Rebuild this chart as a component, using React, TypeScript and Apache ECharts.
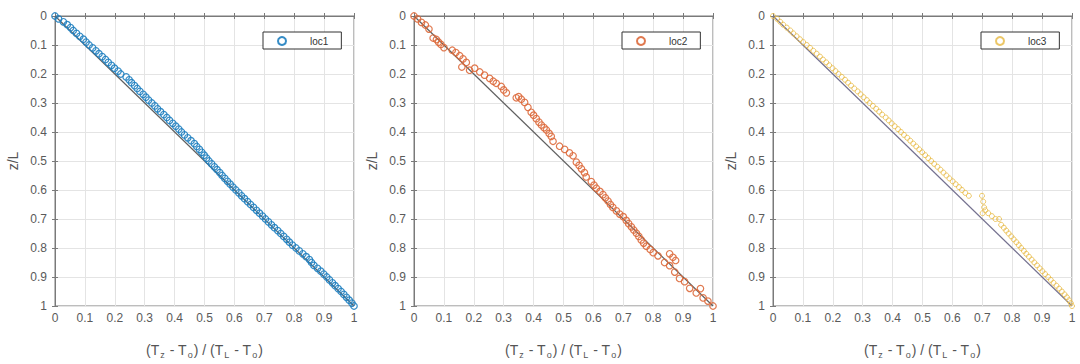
import React, { useEffect, useRef } from "react";
import * as echarts from "echarts";

// [x, z] pairs
const loc1: number[][] = [
  [0.000, 0.00], [0.012, 0.01], [0.028, 0.02], [0.041, 0.03], [0.052, 0.04], [0.061, 0.05], [0.072, 0.06], [0.083, 0.07], [0.095, 0.08], [0.104, 0.09],
  [0.114, 0.10], [0.126, 0.11], [0.137, 0.12], [0.147, 0.13], [0.158, 0.14], [0.169, 0.15], [0.178, 0.16], [0.189, 0.17], [0.199, 0.18], [0.211, 0.19],
  [0.220, 0.20], [0.238, 0.21], [0.248, 0.22], [0.256, 0.23], [0.266, 0.24], [0.275, 0.25], [0.284, 0.26], [0.295, 0.27], [0.304, 0.28], [0.313, 0.29],
  [0.324, 0.30], [0.334, 0.31], [0.343, 0.32], [0.353, 0.33], [0.364, 0.34], [0.374, 0.35], [0.383, 0.36], [0.394, 0.37], [0.404, 0.38], [0.414, 0.39],
  [0.423, 0.40], [0.433, 0.41], [0.444, 0.42], [0.455, 0.43], [0.466, 0.44], [0.474, 0.45], [0.483, 0.46], [0.491, 0.47], [0.499, 0.48], [0.507, 0.49],
  [0.515, 0.50], [0.524, 0.51], [0.533, 0.52], [0.542, 0.53], [0.551, 0.54], [0.559, 0.55], [0.568, 0.56], [0.577, 0.57], [0.586, 0.58], [0.595, 0.59],
  [0.605, 0.60], [0.615, 0.61], [0.624, 0.62], [0.634, 0.63], [0.644, 0.64], [0.654, 0.65], [0.664, 0.66], [0.674, 0.67], [0.684, 0.68], [0.694, 0.69],
  [0.704, 0.70], [0.714, 0.71], [0.724, 0.72], [0.734, 0.73], [0.745, 0.74], [0.755, 0.75], [0.765, 0.76], [0.775, 0.77], [0.784, 0.78], [0.794, 0.79],
  [0.806, 0.80], [0.817, 0.81], [0.829, 0.82], [0.840, 0.83], [0.851, 0.84], [0.858, 0.85], [0.866, 0.86], [0.878, 0.87], [0.889, 0.88], [0.899, 0.89],
  [0.909, 0.90], [0.918, 0.91], [0.928, 0.92], [0.937, 0.93], [0.947, 0.94], [0.957, 0.95], [0.966, 0.96], [0.975, 0.97], [0.984, 0.98], [0.993, 0.99],
  [1.000, 1.00],
];

const loc2: number[][] = [
  [0.000, 0.000], [0.012, 0.010], [0.025, 0.022], [0.038, 0.031], [0.050, 0.045], [0.064, 0.076], [0.075, 0.081], [0.082, 0.090], [0.090, 0.098], [0.100, 0.109],
  [0.128, 0.118], [0.140, 0.126], [0.153, 0.137], [0.164, 0.148], [0.160, 0.176], [0.175, 0.160], [0.186, 0.187], [0.203, 0.180], [0.220, 0.193], [0.236, 0.204],
  [0.253, 0.215], [0.265, 0.225], [0.275, 0.232], [0.292, 0.243], [0.300, 0.255], [0.309, 0.265], [0.342, 0.282], [0.350, 0.278], [0.359, 0.287], [0.370, 0.298],
  [0.381, 0.315], [0.392, 0.332], [0.400, 0.342], [0.409, 0.354], [0.418, 0.366], [0.426, 0.376], [0.435, 0.385], [0.443, 0.393], [0.452, 0.405], [0.459, 0.415],
  [0.465, 0.432], [0.487, 0.449], [0.504, 0.460], [0.520, 0.472], [0.532, 0.482], [0.543, 0.504], [0.552, 0.515], [0.560, 0.527], [0.570, 0.540], [0.576, 0.555],
  [0.593, 0.571], [0.602, 0.583], [0.610, 0.594], [0.622, 0.605], [0.632, 0.616], [0.640, 0.627], [0.649, 0.638], [0.657, 0.650], [0.665, 0.660], [0.677, 0.672],
  [0.688, 0.683], [0.700, 0.692], [0.710, 0.705], [0.718, 0.716], [0.727, 0.727], [0.735, 0.738], [0.744, 0.749], [0.752, 0.760], [0.760, 0.772], [0.768, 0.783],
  [0.777, 0.794], [0.790, 0.805], [0.800, 0.816], [0.816, 0.827], [0.838, 0.850], [0.855, 0.820], [0.866, 0.832], [0.875, 0.843], [0.855, 0.861], [0.872, 0.883],
  [0.888, 0.905], [0.905, 0.916], [0.922, 0.939], [0.944, 0.955], [0.958, 0.940], [0.967, 0.972], [0.983, 0.983], [1.000, 1.000],
];

const loc3: number[][] = [
  [0.000, 0.00], [0.014, 0.01], [0.024, 0.02], [0.034, 0.03], [0.046, 0.04], [0.058, 0.05], [0.068, 0.06], [0.079, 0.07], [0.090, 0.08], [0.101, 0.09],
  [0.113, 0.10], [0.124, 0.11], [0.135, 0.12], [0.146, 0.13], [0.157, 0.14], [0.167, 0.15], [0.178, 0.16], [0.188, 0.17], [0.199, 0.18], [0.209, 0.19],
  [0.219, 0.20], [0.230, 0.21], [0.241, 0.22], [0.251, 0.23], [0.261, 0.24], [0.272, 0.25], [0.283, 0.26], [0.293, 0.27], [0.303, 0.28], [0.314, 0.29],
  [0.323, 0.30], [0.334, 0.31], [0.345, 0.32], [0.355, 0.33], [0.365, 0.34], [0.377, 0.35], [0.387, 0.36], [0.397, 0.37], [0.407, 0.38], [0.418, 0.39],
  [0.428, 0.40], [0.438, 0.41], [0.449, 0.42], [0.459, 0.43], [0.469, 0.44], [0.479, 0.45], [0.489, 0.46], [0.499, 0.47], [0.509, 0.48], [0.519, 0.49],
  [0.529, 0.50], [0.539, 0.51], [0.550, 0.52], [0.560, 0.53], [0.570, 0.54], [0.580, 0.55], [0.590, 0.56], [0.601, 0.57], [0.611, 0.58], [0.622, 0.59],
  [0.632, 0.60], [0.643, 0.61], [0.655, 0.62], [0.699, 0.62], [0.703, 0.64], [0.706, 0.66], [0.701, 0.68], [0.710, 0.67], [0.720, 0.68], [0.732, 0.69],
  [0.744, 0.70], [0.756, 0.70], [0.763, 0.72], [0.772, 0.73], [0.780, 0.74], [0.788, 0.75], [0.797, 0.76], [0.805, 0.77], [0.814, 0.78], [0.822, 0.79],
  [0.830, 0.80], [0.839, 0.81], [0.847, 0.82], [0.856, 0.83], [0.865, 0.84], [0.874, 0.85], [0.883, 0.86], [0.892, 0.87], [0.901, 0.88], [0.910, 0.89],
  [0.920, 0.90], [0.929, 0.91], [0.938, 0.92], [0.948, 0.93], [0.957, 0.94], [0.966, 0.95], [0.975, 0.96], [0.983, 0.97], [0.990, 0.98], [0.996, 0.99],
  [1.000, 1.00],
];

const reference: number[][] = [[0, 0], [1, 1]];
const seriesNames = ["loc1", "loc2", "loc3"];
const seriesColors = ["#1f7fc0", "#dd6a3c", "#e9bd4e"];
const refColors = ["#5f5f5f", "#5f5f5f", "#74718f"];
const panelData = [loc1, loc2, loc3];
const panelLeft = [55, 414, 773];

export default function App() {
  const ref = useRef<HTMLDivElement>(null);
  useEffect(() => {
    if (!ref.current) return;
    const chart = echarts.init(ref.current, undefined, { renderer: "svg" });
    const font = "Liberation Sans, Arial, sans-serif";
    const grids: any[] = [];
    const xAxes: any[] = [];
    const yAxes: any[] = [];
    const series: any[] = [];
    const legends: any[] = [];
    panelLeft.forEach((left, i) => {
      grids.push({ left, top: 16, width: 299, height: 299, show: true, borderColor: "#7a7a7a", borderWidth: 1, backgroundColor: "#fff" });
      const common = {
        gridIndex: i,
        min: 0,
        max: 1,
        interval: 0.1,
        axisLine: { show: true, lineStyle: { color: "#7a7a7a", width: 1 } },
        axisTick: { show: true, inside: true, length: 3, lineStyle: { color: "#7a7a7a" } },
        splitLine: { show: true, lineStyle: { color: "#e4e4e4", width: 1 } },
        axisLabel: { color: "#5a5a5a", fontSize: 12, fontFamily: font, margin: 6 },
      };
      xAxes.push({
        ...common,
        type: "value",
        position: "bottom",
        name: "(T{s|z} - T{s|o}) / (T{s|L} - T{s|o})",
        nameLocation: "middle",
        nameGap: 35,
        nameTextStyle: {
          color: "#555",
          fontSize: 14,
          fontFamily: font,
          rich: { s: { fontSize: 9, fontFamily: font, color: "#555", padding: [9, 1, 0, 1] } },
        },
      });
      xAxes.push({ ...common, type: "value", position: "top", axisLabel: { show: false }, splitLine: { show: false } });
      yAxes.push({
        ...common,
        type: "value",
        inverse: true,
        position: "left",
        name: "z/L",
        nameLocation: "middle",
        nameGap: 35,
        nameTextStyle: { color: "#555", fontSize: 14, fontFamily: font },
        axisLabel: { ...common.axisLabel, margin: 8 },
      });
      yAxes.push({ ...common, type: "value", inverse: true, position: "right", axisLabel: { show: false }, splitLine: { show: false } });
      series.push({
        type: "line",
        xAxisIndex: i * 2,
        yAxisIndex: i * 2,
        data: reference,
        showSymbol: false,
        symbol: "none",
        lineStyle: { color: refColors[i], width: 1.2 },
        z: 2,
        silent: true,
      });
      series.push({
        type: "scatter",
        name: seriesNames[i],
        xAxisIndex: i * 2,
        yAxisIndex: i * 2,
        data: panelData[i],
        symbol: "circle",
        symbolSize: i === 2 ? 5 : 6.5,
        itemStyle: { color: "rgba(255,255,255,0)", borderColor: seriesColors[i], borderWidth: i === 2 ? 1 : 1.2, opacity: i === 2 ? 0.85 : 0.9 },
        z: 3,
      });
      legends.push({
        data: [seriesNames[i]],
        left: left + 208,
        top: 32,
        orient: "vertical",
        backgroundColor: "#fff",
        borderColor: "#333",
        borderWidth: 1,
        borderRadius: 0,
        padding: [4, 13, 3, 14],
        itemWidth: 30,
        itemHeight: 8,
        itemGap: 0,
        textStyle: { color: "#333", fontSize: 10, fontFamily: font, padding: [0, 0, 0, 8] },
      });
    });
    chart.setOption({
      animation: false,
      backgroundColor: "#fff",
      grid: grids,
      xAxis: xAxes,
      yAxis: yAxes,
      legend: legends,
      series,
    });
    return () => chart.dispose();
  }, []);
  return <div ref={ref} style={{ position: "fixed", left: 0, top: 0, width: 1080, height: 364 }} />;
}
